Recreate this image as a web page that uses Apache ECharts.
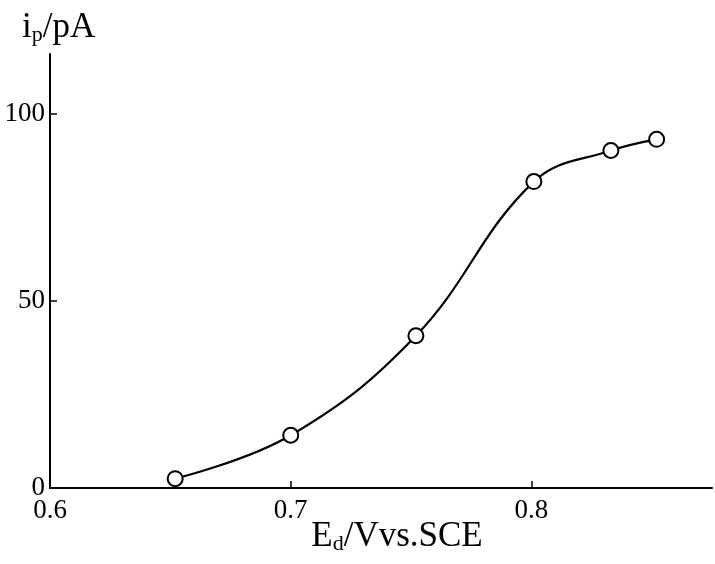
<!DOCTYPE html>
<html>
<head>
<meta charset="utf-8">
<script src="https://cdn.jsdelivr.net/npm/echarts@6/dist/echarts.min.js"></script>
<style>
html, body { margin: 0; padding: 0; background: #fff; }
#main { width: 715px; height: 564px; }
</style>
</head>
<body>
<div id="main"></div>
<script>
// potential (V vs. SCE) and peak current (pA)
var potentials = [0.652, 0.700, 0.752, 0.801, 0.833, 0.852];
var currents = [2.5, 14.1, 40.7, 81.9, 90.2, 93.2];
var xTicks = [0.6, 0.7, 0.8];
var yTicks = [0, 50, 100];

var points = [];
for (var i = 0; i < potentials.length; i++) {
    points.push([potentials[i], currents[i]]);
}

var serif = 'Liberation Serif';
var myChart = echarts.init(document.getElementById('main'));

var nameRich = {
    m: { fontFamily: serif, fontSize: 35, color: '#000', lineHeight: 36 },
    s: { fontFamily: serif, fontSize: 22, color: '#000', lineHeight: 22, padding: [14, 0, 0, 0], verticalAlign: 'top' }
};

var option = {
    backgroundColor: '#fff',
    animation: false,
    grid: { left: 50, right: 3, top: 54, bottom: 76, outerBoundsMode: 'none', containLabel: false },
    xAxis: {
        type: 'value',
        min: 0.6,
        max: 0.875,
        interval: 0.1,
        splitLine: { show: false },
        axisLine: { lineStyle: { color: '#000', width: 2 } },
        axisTick: { inside: true, length: 7, lineStyle: { color: '#000', width: 1.5 }, customValues: xTicks },
        axisLabel: {
            customValues: xTicks,
            color: '#000', fontFamily: serif, fontSize: 27, margin: 9,
            formatter: function (v) { return v.toFixed(1); }
        },
        name: '{m|E}{s|d}{m|/Vvs.SCE}',
        nameLocation: 'middle',
        nameGap: 31,
        nameMoveOverlap: false,
        nameTextStyle: { padding: [0, 0, 0, 32], rich: nameRich }
    },
    yAxis: {
        type: 'value',
        min: 0,
        max: 116,
        interval: 50,
        splitLine: { show: false },
        axisLine: { lineStyle: { color: '#000', width: 2 } },
        axisTick: { inside: true, length: 7, lineStyle: { color: '#000', width: 1.5 }, customValues: yTicks },
        axisLabel: { customValues: yTicks, color: '#000', fontFamily: serif, fontSize: 27, margin: 5 },
        name: '{m|i}{s|p}{m|/pA}',
        nameLocation: 'end',
        nameGap: 8,
        nameTextStyle: { align: 'left', padding: [0, 0, 0, -28], rich: nameRich }
    },
    series: [{
        type: 'line',
        data: points,
        smooth: 0.4,
        symbol: 'emptyCircle',
        symbolSize: 15,
        lineStyle: { color: '#000', width: 2.2 },
        itemStyle: { color: '#000', borderColor: '#000', borderWidth: 2 }
    }]
};

myChart.setOption(option);
</script>
</body>
</html>
